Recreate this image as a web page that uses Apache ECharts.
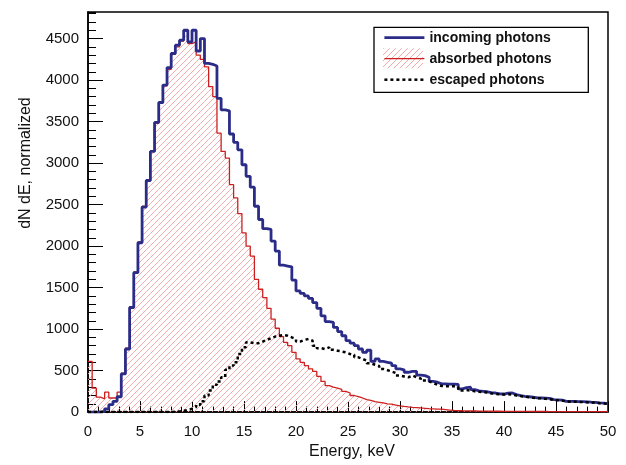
<!DOCTYPE html>
<html><head><meta charset="utf-8">
<script src="https://cdn.jsdelivr.net/npm/echarts@6/dist/echarts.min.js"></script>
<style>html,body{margin:0;padding:0;background:#fff}#c{width:626px;height:465px}</style>
</head><body><div id="c"></div>
<script>
// histogram binning (keV)
const BIN_WIDTH = 0.4;
const X_MIN = 0, X_MAX = 50, X_TICK_STEP = 5;
const Y_MIN = 0, Y_MAX = 4820, Y_TICK_STEP = 500, Y_MINOR_STEP = 100;

const seriesNames = ['incoming photons', 'absorbed photons', 'escaped photons'];

const incoming = [
  0,0,0,10,40,90,130,185,460,760,
  1260,1680,2040,2470,2790,3140,3490,3730,3940,4150,
  4320,4420,4480,4600,4460,4600,4350,4500,4200,4190,
  4170,3780,3640,3630,3350,3250,3160,2980,2840,2710,
  2480,2320,2210,2200,2060,1940,1770,1760,1750,1590,
  1460,1430,1400,1370,1320,1250,1160,1090,1080,1020,
  970,920,860,830,800,760,720,745,610,640,
  610,600,590,560,520,510,480,490,490,445,
  440,420,370,360,340,340,338,338,335,280,
  295,300,270,255,250,245,235,230,220,218,
  228,230,210,198,190,185,180,172,170,168,
  165,150,148,145,130,128,128,126,125,124,
  120,118,112,108,102
];

const absorbed = [
  610,290,180,160,240,170,170,240,470,770,
  1270,1690,2050,2480,2790,3140,3480,3720,3930,4130,
  4310,4400,4470,4590,4440,4460,4300,4250,4160,3920,
  3800,3360,3140,3060,2740,2580,2390,2160,2000,1880,
  1600,1480,1380,1250,1120,1010,910,840,800,720,
  640,600,560,520,490,430,370,320,300,290,
  275,250,230,200,185,170,150,140,125,118,
  110,100,95,85,75,68,62,58,55,50,
  46,42,40,37,35,30,25,20,18,16,
  15,14,13,12,12,11,10,10,10,9,
  9,9,8,8,8,8,7,7,7,7,
  6,6,6,6,6,5,5,5,5,5,
  5,5,5,4,4
];

const escaped = [
  0,0,0,0,0,0,0,0,0,0,
  0,0,0,0,0,0,0,0,0,0,
  5,8,15,25,40,60,90,130,200,260,
  330,370,420,510,560,600,700,780,840,830,
  830,850,870,890,910,920,930,920,900,880,
  850,870,880,860,800,770,760,780,750,740,
  730,720,700,690,660,640,620,590,570,555,
  520,505,490,470,440,430,420,440,420,405,
  380,370,350,330,315,310,310,310,300,260,
  265,260,250,245,240,235,225,220,215,212,
  215,210,200,193,185,180,172,168,165,160,
  155,145,142,138,128,126,125,122,120,118,
  115,112,108,104,100
];

function stepData(vals) {
  const d = vals.map((v, i) => [i * BIN_WIDTH, v]);
  d.push([vals.length * BIN_WIDTH, vals[vals.length - 1]]);
  return d;
}
function binData(vals) {
  return vals.map((v, i) => [i * BIN_WIDTH, (i + 1) * BIN_WIDTH, v]);
}

const HATCH_STEP = 6;
const HATCH_COLOR = '#f0a0a0';
// "////" hatch clipped to a pixel rectangle (lines x + y = const)
function hatchLines(X0, X1, Y0, Y1, z) {
  const out = [];
  const cStart = Math.ceil((X0 + Y0) / HATCH_STEP) * HATCH_STEP;
  for (let c = cStart; c <= X1 + Y1; c += HATCH_STEP) {
    const lo = Math.max(X0, c - Y1), hi = Math.min(X1, c - Y0);
    if (hi > lo) {
      const el = {type: 'line', shape: {x1: lo, y1: c - lo, x2: hi, y2: c - hi},
        style: {stroke: HATCH_COLOR, lineWidth: 0.9}};
      if (z != null) el.z = z;
      out.push(el);
    }
  }
  return out;
}

const FONT = 'Liberation Sans';
const BLUE = '#2b2c88', RED = '#cc2020', BLACK = '#000';

const chart = echarts.init(document.getElementById('c'), null, {renderer: 'canvas'});
chart.setOption({
  animation: false,
  backgroundColor: '#fff',
  grid: {left: 88, right: 18, top: 12, bottom: 51, show: true, borderColor: '#000', borderWidth: 1.5, backgroundColor: '#fff'},
  xAxis: {
    type: 'value', min: X_MIN, max: X_MAX, interval: X_TICK_STEP,
    name: 'Energy, keV', nameLocation: 'middle', nameGap: 31,
    nameTextStyle: {fontFamily: FONT, fontSize: 16, color: '#111', padding: [0, 0, 0, 8]},
    axisLine: {lineStyle: {color: '#000', width: 1.5}},
    axisTick: {inside: true, length: 11, lineStyle: {color: '#000', width: 1}},
    minorTick: {show: true, splitNumber: 5, length: 5.5, lineStyle: {color: '#000', width: 1}},
    axisLabel: {fontFamily: FONT, fontSize: 15, color: '#111', margin: 12, formatter: v => String(v)},
    splitLine: {show: false}
  },
  yAxis: [{
    type: 'value', min: Y_MIN, max: Y_MAX, interval: Y_TICK_STEP,
    name: 'dN dE, normalized', nameLocation: 'middle', nameGap: 54,
    nameTextStyle: {fontFamily: FONT, fontSize: 16, color: '#111', padding: [0, 0, 0, 98]},
    axisLine: {show: true, lineStyle: {color: '#000', width: 1.5}},
    axisTick: {inside: true, length: 15, lineStyle: {color: '#000', width: 1}},
    axisLabel: {fontFamily: FONT, fontSize: 15, color: '#111', margin: 9, showMaxLabel: false, formatter: v => String(v)},
    splitLine: {show: false}
  }, {
    type: 'value', min: Y_MIN, max: Y_MAX, interval: Y_MINOR_STEP, position: 'left',
    axisLine: {show: false},
    axisTick: {show: true, inside: true, length: 8, lineStyle: {color: '#000', width: 1}},
    axisLabel: {show: false},
    splitLine: {show: false}
  }],
  legend: {
    orient: 'vertical', left: 383, top: 30.7, padding: 0, itemGap: 7,
    itemWidth: 40, itemHeight: 14, z: 20,
    textStyle: {fontFamily: FONT, fontSize: 14, fontWeight: 'bold', color: '#111'},
    itemStyle: {opacity: 0},
    data: [
      {name: seriesNames[0], lineStyle: {width: 2.8}},
      {name: seriesNames[1], lineStyle: {width: 1.3}},
      {name: seriesNames[2], lineStyle: {width: 2.5}}
    ]
  },
  graphic: [
    {type: 'rect', z: 10, shape: {x: 374, y: 27.3, width: 214.3, height: 65}, style: {fill: '#fff', stroke: '#000', lineWidth: 1.3}}
  ].concat(hatchLines(383, 423, 48.3, 68.3, 12)),
  series: [
    {
      name: seriesNames[0], type: 'line', step: 'end', data: stepData(incoming),
      symbol: 'none', z: 3,
      lineStyle: {color: BLUE, width: 2.8}, itemStyle: {color: BLUE}
    },
    {
      name: seriesNames[1], type: 'line', step: 'end', data: stepData(absorbed),
      symbol: 'none', z: 2,
      lineStyle: {color: RED, width: 1.3}, itemStyle: {color: RED}
    },
    {
      name: seriesNames[2], type: 'line', step: 'end', data: stepData(escaped),
      symbol: 'none', z: 4,
      lineStyle: {color: BLACK, width: 2.5, type: [3, 3]}, itemStyle: {color: BLACK}
    },
    {
      name: 'absorbed hatch', type: 'custom', z: 1, silent: true,
      data: binData(absorbed),
      encode: {x: [0, 1], y: 2},
      renderItem: function (params, api) {
        const pTop = api.coord([api.value(0), api.value(2)]);
        const pBot = api.coord([api.value(1), 0]);
        return {type: 'group', children: hatchLines(pTop[0], pBot[0], pTop[1], pBot[1])};
      }
    }
  ]
});
</script></body></html>
